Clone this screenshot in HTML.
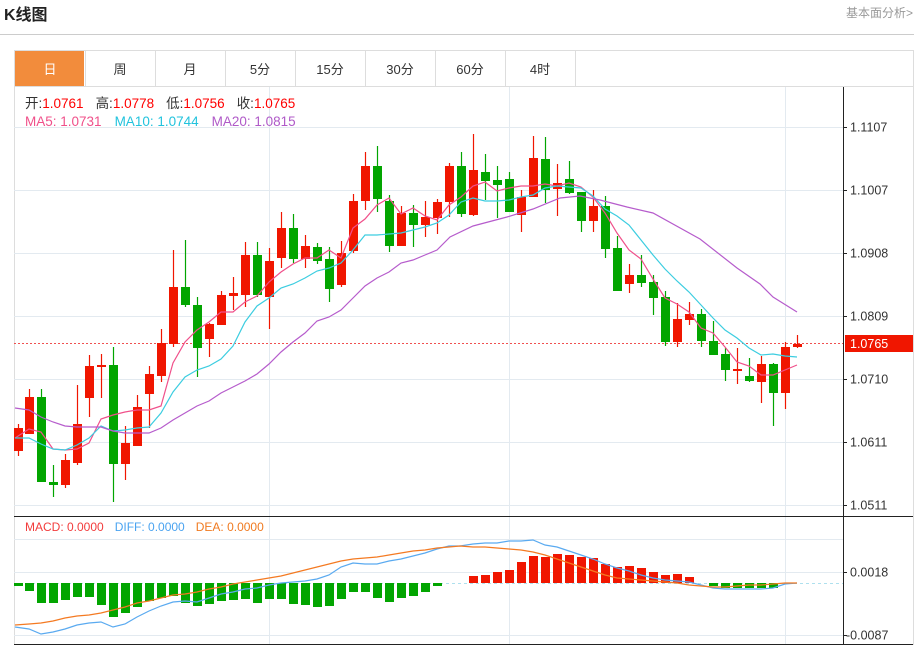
<!DOCTYPE html>
<html><head><meta charset="utf-8"><style>
html,body{margin:0;padding:0;background:#fff;width:922px;height:646px;overflow:hidden;font-family:"Liberation Sans","Noto Sans CJK SC",sans-serif}
</style></head><body>
<svg id="s" width="922" height="646" xmlns="http://www.w3.org/2000/svg" style="position:absolute;left:0;top:0;font-family:'Liberation Sans','Noto Sans CJK SC',sans-serif">
<text x="4" y="20" font-size="16" font-weight="bold" fill="#222">K线图</text>
<text x="913" y="17" font-size="12" fill="#999" text-anchor="end">基本面分析&gt;</text>
<line x1="0" y1="34.5" x2="914" y2="34.5" stroke="#ccc"/>
<rect x="14.5" y="50.5" width="899" height="594" fill="none" stroke="#ddd"/>
<line x1="14" y1="86.5" x2="913" y2="86.5" stroke="#ddd"/>
<rect x="15" y="51" width="69" height="35" fill="#f28c3c"/>
<g id="tabs" font-size="13" text-anchor="middle" fill="#333"></g>
<g id="grid"></g>
<g id="cand"></g>
<g id="lines"></g>
<g id="ax"></g>
<text x="25" y="108" font-size="13.5"><tspan fill="#333">开:</tspan><tspan fill="#f00">1.0761</tspan><tspan fill="#333" dx="12">高:</tspan><tspan fill="#f00">1.0778</tspan><tspan fill="#333" dx="12">低:</tspan><tspan fill="#f00">1.0756</tspan><tspan fill="#333" dx="12">收:</tspan><tspan fill="#f00">1.0765</tspan></text>
<text x="25" y="126" font-size="13.5"><tspan fill="#f0508a">MA5: 1.0731</tspan><tspan fill="#22c3dd" dx="13">MA10: 1.0744</tspan><tspan fill="#b05ac8" dx="13">MA20: 1.0815</tspan></text>
<text x="25" y="531" font-size="12"><tspan fill="#f23c3c">MACD: 0.0000</tspan><tspan fill="#4aa3f0" dx="11">DIFF: 0.0000</tspan><tspan fill="#f07a20" dx="11">DEA: 0.0000</tspan></text>
</svg>
<script>
const NS="http://www.w3.org/2000/svg";
function el(p,t,a){const e=document.createElementNS(NS,t);for(const k in a)e.setAttribute(k,a[k]);p.appendChild(e);return e;}
const tabs=document.getElementById('tabs');
["日","周","月","5分","15分","30分","60分","4时"].forEach((t,i)=>{const x=15+i*70;
 const tx=el(tabs,'text',{x:x+35,y:74,fill:i==0?'#fff':'#333'});tx.textContent=t;
 el(tabs,'line',{x1:x+70.5,y1:51,x2:x+70.5,y2:86,stroke:'#ddd'});});
const g=document.getElementById('grid');
[127,190,253,316,379,442,505,539,572,635].forEach(y=>el(g,'line',{x1:14,y1:y+.5,x2:843,y2:y+.5,stroke:'#e3eaf0'}));
[269,509,785].forEach(x=>el(g,'line',{x1:x+.5,y1:87,x2:x+.5,y2:645,stroke:'#e3eaf0'}));
el(g,'line',{x1:14,y1:343.5,x2:843,y2:343.5,stroke:'#f05050','stroke-dasharray':'2,2'});
el(g,'line',{x1:14,y1:583.5,x2:843,y2:583.5,stroke:'#aee0ee','stroke-dasharray':'3,3'});
const C=[[18,428,451,424,456,1],[29,397,434,389,434,1],[41,397,482,389,482,0],[53,482,485,465,497,0],[65,460,485,454,488,1],[77,424,463,385,465,1],[89,366,398,355,417,1],[101,365,367,354,398,1],[113,365,464,347,502,0],[125,443,464,426,480,1],[137,407,446,395,446,1],[149,374,394,366,428,1],[161,343,376,329,382,1],[173,287,344,250,347,1],[185,287,305,240,307,0],[197,305,348,297,377,0],[209,324,339,323,357,1],[221,295,325,291,325,1],[233,293,296,277,310,1],[245,255,295,242,307,1],[257,255,295,242,297,0],[269,261,297,248,329,1],[281,228,258,212,268,1],[293,228,259,214,263,0],[305,246,259,235,268,1],[317,247,261,243,264,0],[329,259,289,247,302,0],[341,253,285,241,287,1],[353,201,251,194,253,1],[365,166,201,152,210,1],[377,166,199,146,212,0],[389,201,246,195,252,0],[401,213,246,206,246,1],[413,213,225,205,247,0],[425,217,225,201,237,1],[437,202,218,199,234,1],[449,166,202,163,217,1],[461,166,214,152,217,0],[473,170,215,134,216,1],[485,172,181,154,200,0],[497,180,185,166,218,0],[509,179,212,172,212,0],[521,197,215,190,232,1],[533,158,197,136,197,1],[545,159,190,137,203,0],[557,183,189,164,216,1],[569,179,193,161,194,0],[581,192,221,192,232,0],[593,206,221,190,232,1],[605,206,249,196,258,0],[617,248,291,236,291,0],[629,275,284,264,293,1],[641,275,283,255,287,0],[653,282,298,275,315,0],[665,297,342,291,346,0],[677,319,342,303,347,1],[689,314,320,302,325,1],[701,314,341,309,347,0],[713,341,355,321,355,0],[725,354,370,348,381,0],[737,369,371,348,384,1],[749,376,381,358,382,0],[761,364,382,356,403,1],[773,364,393,363,426,0],[785,347,393,342,409,1],[797,344,347,335,348,1]];
const cg=document.getElementById('cand');
const M=[3,8,20,20,17,14,14,22,34,30,24,18,15,13,20,23,21,18,17,16,20,16,16,21,22,24,23,16,9,9,15,19,15,13,9,3,0.5,0.5,-7,-8,-11,-13,-21,-27,-26,-29,-28,-26,-25,-19,-16,-17,-15,-11,-8,-9,-6,0.5,3,5,5,5,5,5,0.5,0.5];
C.forEach((c,i)=>{const col=c[5]?'#f01600':'#02a500';
 el(cg,'line',{x1:c[0]+.5,y1:c[3],x2:c[0]+.5,y2:c[4],stroke:col,'stroke-width':1.2});
 el(cg,'rect',{x:c[0]-4,y:c[1],width:9,height:Math.max(2,c[2]-c[1]),fill:col});
 const m=M[i];const mc=m<0?'#f01600':'#02a500';
 const h=Math.abs(m);
 if(h>0.6) el(cg,'rect',{x:c[0]-4,y:m<0?583-h:583,width:9,height:h,fill:mc});
});
const L=document.getElementById('lines');
function pl(pts,col){el(L,'polyline',{points:pts.map(p=>p.join(',')).join(' '),fill:'none',stroke:col,'stroke-width':1.2});}
pl([[15,438],[29,429],[41,432],[53,449],[65,450],[77,449],[89,443],[101,419],[113,415],[125,412],[137,410],[149,410],[161,406],[173,363],[185,342],[197,330],[209,322],[221,312],[233,312],[245,302],[257,296],[269,282],[281,272],[293,264],[305,258],[317,258],[329,250],[341,258],[353,228],[365,219],[377,205],[389,198],[401,214],[413,208],[425,216],[437,220],[449,205],[461,197],[473,186],[485,182],[497,191],[509,188],[521,186],[533,186],[545,184],[557,186],[569,183],[581,187],[593,197],[605,213],[617,233],[629,250],[641,259],[653,279],[665,298],[677,304],[689,312],[701,328],[713,333],[725,347],[737,362],[749,366],[761,375],[773,375],[785,370],[797,365]],'#f0508a');
pl([[15,438],[29,438],[41,444],[53,449],[65,450],[77,445],[89,438],[101,426],[113,431],[125,430],[137,428],[149,427],[161,413],[173,392],[185,377],[197,370],[209,366],[221,359],[233,346],[245,322],[257,306],[269,298],[281,288],[293,284],[305,278],[317,271],[329,268],[341,263],[353,250],[365,235],[377,235],[389,234],[401,233],[413,230],[425,227],[437,223],[449,215],[461,202],[473,198],[485,201],[497,201],[509,200],[521,197],[533,195],[545,188],[557,186],[569,187],[581,188],[593,196],[605,209],[617,216],[629,225],[641,240],[653,255],[665,269],[677,281],[689,292],[701,305],[713,318],[725,330],[737,338],[749,348],[761,355],[773,354],[785,356],[797,357]],'#3ccde0');
pl([[15,408],[29,410],[41,417],[53,422],[65,426],[77,427],[89,427],[101,427],[113,431],[125,433],[137,433],[149,433],[161,428],[173,420],[185,413],[197,406],[209,401],[221,393],[233,387],[245,381],[257,374],[269,364],[281,352],[293,342],[305,333],[317,321],[329,317],[341,310],[353,298],[365,286],[377,278],[389,272],[401,263],[413,260],[425,255],[437,250],[450,237],[473,226],[507,217],[533,209],[560,198],[580,196],[600,200],[627,207],[653,213],[700,239],[737,268],[760,284],[773,297],[797,312]],'#b65ccc');
pl([[15,627],[29,629],[41,634],[53,632],[65,629],[77,625],[89,623],[101,622],[113,627],[125,624],[137,617],[149,611],[161,606],[173,602],[185,601],[197,602],[209,598],[221,594],[233,592],[245,589],[257,588],[269,585],[281,583],[293,582],[305,581],[317,579],[329,575],[341,567],[353,563],[365,564],[377,564],[389,561],[401,559],[413,556],[425,553],[437,549],[449,546],[460,546],[473,544],[485,543],[497,543],[509,541],[521,541],[533,540],[545,545],[557,547],[569,551],[581,555],[593,559],[605,564],[617,568],[629,571],[641,575],[653,578],[665,580],[677,581],[689,582],[701,585],[713,588],[725,589],[737,589],[749,589],[761,589],[773,588],[785,584],[797,583]],'#5aaaf0');
pl([[15,625],[29,624],[41,623],[53,621],[65,618],[77,616],[89,615],[101,613],[113,610],[125,607],[137,603],[149,601],[161,598],[173,595],[185,594],[197,592],[209,589],[221,587],[233,584],[245,582],[257,580],[269,578],[281,576],[293,573],[305,570],[317,567],[329,564],[341,561],[353,559],[365,558],[377,557],[389,555],[401,553],[413,551],[425,550],[437,548],[449,547],[460,546],[473,547],[485,547],[497,548],[509,549],[521,550],[533,552],[545,555],[557,559],[569,563],[581,567],[593,571],[605,575],[617,578],[629,579],[641,580],[653,581],[665,582],[677,583],[689,585],[701,586],[713,587],[725,587],[737,586],[749,585],[761,585],[773,584],[785,583],[797,583]],'#f47a22');
const A=document.getElementById('ax');
el(A,'line',{x1:843.5,y1:87,x2:843.5,y2:645,stroke:'#222'});
el(A,'line',{x1:14,y1:516.5,x2:913,y2:516.5,stroke:'#222'});
el(A,'line',{x1:14,y1:644.5,x2:913,y2:644.5,stroke:'#222'});
[[127,'1.1107'],[190,'1.1007'],[253,'1.0908'],[316,'1.0809'],[379,'1.0710'],[442,'1.0611'],[505,'1.0511'],[572,'0.0018'],[635,'-0.0087']].forEach(([y,t])=>{
 el(A,'line',{x1:843,y1:y+.5,x2:847,y2:y+.5,stroke:'#222'});
 const tx=el(A,'text',{x:t[0]=='-'?846:850,y:y+4.5,'font-size':12.5,fill:'#333'});tx.textContent=t;});
el(A,'rect',{x:845,y:335,width:68,height:17,fill:'#f01600'});
const tt=el(A,'text',{x:850,y:348,'font-size':12.5,fill:'#fff'});tt.textContent='1.0765';
</script>
</body></html>
